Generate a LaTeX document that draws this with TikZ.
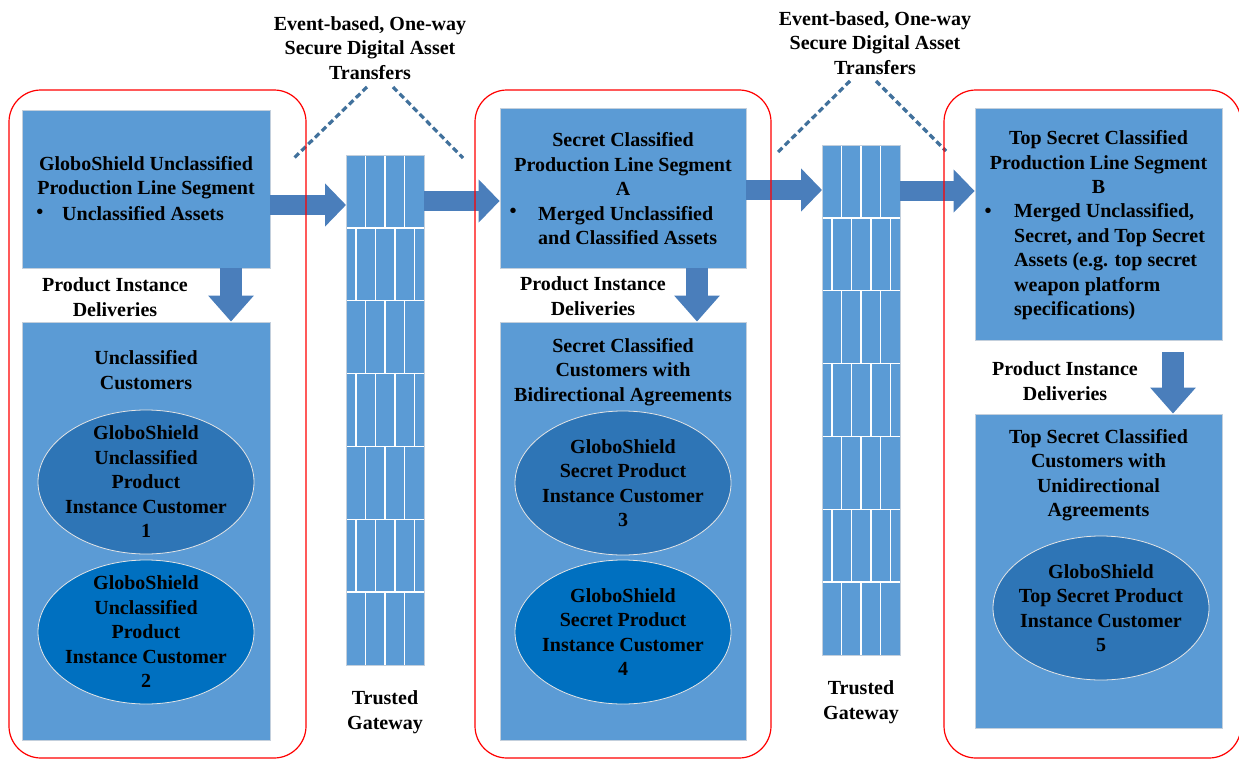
\documentclass[tikz,border=0pt]{standalone}
\usepackage{fontspec}
\setmainfont{Liberation Serif}
\usetikzlibrary{arrows.meta,calc,positioning,shapes.geometric}
\definecolor{boxblue}{HTML}{5B9BD5}
\definecolor{darkoval}{HTML}{2E75B6}
\definecolor{deepoval}{HTML}{0070C0}
\definecolor{arrowblue}{HTML}{4A7EBB}
\definecolor{dashblue}{HTML}{41719C}
\definecolor{edgegray}{HTML}{C3CFDC}
\tikzset{
    x=1pt, y=-1pt,
    txt/.style ={font=\fontsize{20}{24.5}\selectfont\bfseries, align=center, inner sep=0pt},
    ltxt/.style={txt, align=left, anchor=west},
    box/.style ={rectangle, fill=boxblue, draw=edgegray, line width=0.8pt, inner sep=0pt},
    oval/.style={ellipse, draw=white!80!gray, line width=0.8pt, minimum width=216pt, minimum height=144pt, inner sep=0pt},
    zone/.style={draw=red, line width=1.2pt, rounded corners=32pt},
    flow/.style={draw=arrowblue, line width=20pt, -{Triangle[width=42pt,length=21pt]}},
    drop/.style={draw=arrowblue, line width=22pt, -{Triangle[width=44pt,length=26pt]}},
    link/.style={draw=dashblue, line width=3.2pt, dash pattern=on 6pt off 3.5pt},
    gate/.style={rectangle, fill=boxblue, minimum width=78pt, minimum height=510pt, inner sep=0pt, anchor=north west},
    brick/.style={draw=white, line width=1.5pt}
}
% trusted gateway as a brick wall: name, left x, top y
\newcommand{\gatewall}[3]{%
    \node[gate] (#1) at (#2,#3) {};
    \foreach \r in {1,...,6}
        \draw[brick] (#2,#3+\r*72.857) -- ++(78,0);
    \foreach \r in {0,2,4,6}
        \foreach \c in {19.5,39,58.5}
            \draw[brick] (#2+\c,#3+\r*72.857) -- ++(0,72.857);
    \foreach \r in {1,3,5}
        \foreach \c in {9.75,29.25,48.75,68.25}
            \draw[brick] (#2+\c,#3+\r*72.857) -- ++(0,72.857);
    \draw[edgegray, line width=1pt] (#1.north west) rectangle (#1.south east);
}

\begin{document}
\begin{tikzpicture}
\useasboundingbox (0,0) rectangle (1239,760);

% unclassified segment
\node[box, minimum width=248pt, minimum height=158pt] (segA) at (146,189) {};
\node[txt] (segAhead) at (146,177.5) {GloboShield Unclassified\\Production Line Segment};
\node[txt] (segAdot) at (40,214) {\textbullet};
\node[ltxt] (segAlist) at (62,214) {Unclassified Assets};

\node[box, minimum width=248pt, minimum height=418pt] (custA) at (146,531) {};
\node[txt] (custAhead) at (146,370) {Unclassified\\Customers};
\node[oval, fill=darkoval] (cust1) at (146,482) {};
\node[txt] at (cust1) {GloboShield\\Unclassified\\Product\\Instance Customer\\1};
\node[oval, fill=deepoval] (cust2) at (146,632) {};
\node[txt] at (cust2) {GloboShield\\Unclassified\\Product\\Instance Customer\\2};

% secret segment
\node[box, minimum width=246pt, minimum height=160pt] (segB) at (623,188) {};
\node[txt] (segBhead) at (623,164) {Secret Classified\\Production Line Segment\\A};
\node[txt] (segBdot) at (513,213) {\textbullet};
\node[ltxt] (segBlist) at (538,225.5) {Merged Unclassified\\and Classified Assets};

\node[box, minimum width=246pt, minimum height=418pt] (custB) at (623,531) {};
\node[txt] (custBhead) at (623,372) {Secret Classified\\Customers with\\Bidirectional Agreements};
\node[oval, fill=darkoval] (cust3) at (623,483) {};
\node[txt] at (cust3) {GloboShield\\Secret Product\\Instance Customer\\3};
\node[oval, fill=deepoval] (cust4) at (623,632) {};
\node[txt] at (cust4) {GloboShield\\Secret Product\\Instance Customer\\4};

% top secret segment
\node[box, minimum width=247pt, minimum height=232pt] (segC) at (1098.5,224) {};
\node[txt] (segChead) at (1098.5,162) {Top Secret Classified\\Production Line Segment\\B};
\node[txt] (segCdot) at (988,213) {\textbullet};
\node[ltxt] (segClist) at (1014,262) {Merged Unclassified,\\Secret, and Top Secret\\Assets (e.g. top secret\\weapon platform\\specifications)};

\node[box, minimum width=247pt, minimum height=314pt] (custC) at (1098.5,571) {};
\node[txt] (custChead) at (1098.5,475) {Top Secret Classified\\Customers with\\Unidirectional\\Agreements};
\node[oval, fill=darkoval] (cust5) at (1101,608) {};
\node[txt] at (cust5) {GloboShield\\Top Secret Product\\Instance Customer\\5};

% gateways
\gatewall{gw1}{346}{155}
\gatewall{gw2}{822}{145}
\node[txt] (gw1name) at (385,712) {Trusted\\Gateway};
\node[txt] (gw2name) at (861,702) {Trusted\\Gateway};

% transfer notes
\node[txt] (xfer1) at (370,48) {Event-based, One-way\\Secure Digital Asset\\Transfers};
\node[txt] (xfer2) at (875,43) {Event-based, One-way\\Secure Digital Asset\\Transfers};
\draw[link] (367,87) -- (293,159);
\draw[link] (393,87) -- (463,158);
\draw[link] (850,81) -- (777,153);
\draw[link] (876,81) -- (946,151);

% deliveries
\node[txt] (del1) at (115,297) {Product Instance\\Deliveries};
\node[txt] (del2) at (593,296) {Product Instance\\Deliveries};
\node[txt] (del3) at (1065,381) {Product Instance\\Deliveries};

% block arrows
\draw[flow] (segA.east |- 0,205) -- (gw1.west |- 0,205);
\draw[flow] (gw1.east |- 0,201) -- (segB.west |- 0,201);
\draw[flow] (segB.east |- 0,190) -- (gw2.west |- 0,190);
\draw[flow] (gw2.east |- 0,191) -- (segC.west |- 0,191);
\draw[drop] (segA.south -| 231,0) -- (custA.north -| 231,0);
\draw[drop] (segB.south -| 697,0) -- (custB.north -| 697,0);
\draw[drop] (1173,352) -- (custC.north -| 1173,0);

% classification zones
\draw[zone] (9,90) rectangle (306,758);
\draw[zone] (475,90) rectangle (771,758);
\draw[zone] (944,90) rectangle (1241,758);

\end{tikzpicture}
\end{document}
